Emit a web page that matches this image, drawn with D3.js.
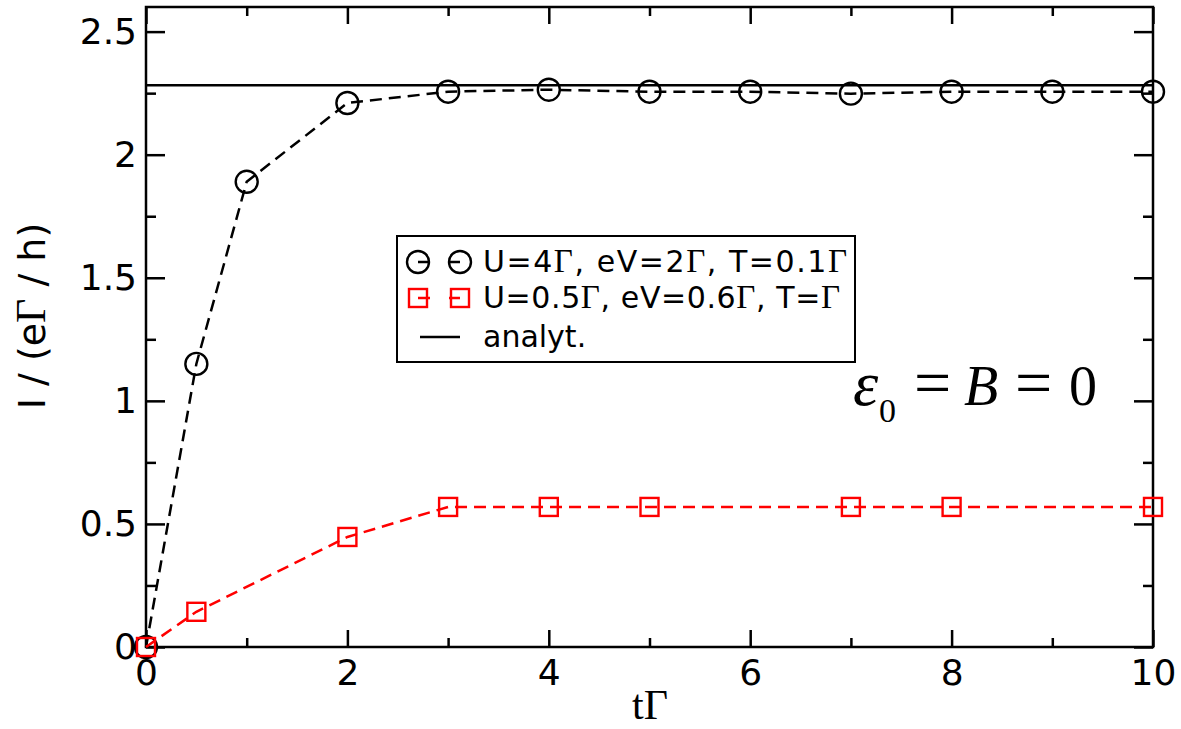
<!DOCTYPE html>
<html>
<head>
<meta charset="utf-8">
<script src="https://cdn.jsdelivr.net/npm/d3@7"></script>
<style>
  body { margin: 0; background: #fff; }
  .tick text { font-family: "DejaVu Sans", sans-serif; font-size: 36px; fill: #000; }
</style>
</head>
<body>
<div class="chart"></div>
<script>
var svgWidth = 1181;
var svgHeight = 729;
var margin = { top: 7, right: 28, bottom: 82, left: 146 };
var width = svgWidth - margin.left - margin.right;
var height = svgHeight - margin.top - margin.bottom;

// data
var tBlack = [0, 0.5, 1, 2, 3, 4, 5, 6, 7, 8, 9, 10];
var iBlack = [0, 1.15, 1.89, 2.21, 2.256, 2.264, 2.256, 2.256, 2.248, 2.256, 2.256, 2.256];
var tRed = [0, 0.5, 2, 3, 4, 5, 7, 8, 10];
var iRed = [0, 0.143, 0.447, 0.569, 0.569, 0.569, 0.569, 0.569, 0.569];
var analytic = 2.282;
var xTicks = [0, 2, 4, 6, 8, 10];
var xMinor = [1, 3, 5, 7, 9];
var yTicks = [0, 0.5, 1, 1.5, 2, 2.5];
var yMinor = [0.25, 0.75, 1.25, 1.75, 2.25];
var legendLabels = [
    ["U=4", "Γ", ", eV=2", "Γ", ", T=0.1", "Γ"],
    ["U=0.5", "Γ", ", eV=0.6", "Γ", ", T=", "Γ"],
    ["analyt."]
];

var svg = d3.select(".chart")
    .append("svg")
    .attr("width", svgWidth)
    .attr("height", svgHeight);

var chartGroup = svg.append("g")
    .attr("transform", `translate(${margin.left}, ${margin.top})`);

var x = d3.scaleLinear().domain([0, 10]).range([0, width]);
var y = d3.scaleLinear().domain([0, 2.6]).range([height, 0]);

// axes with inward ticks
function styleAxis(g) {
    g.select(".domain").remove();
    g.selectAll(".tick line").attr("stroke", "#000").attr("stroke-width", 2.5);
}
chartGroup.append("g")
    .attr("transform", `translate(0, ${height})`)
    .call(d3.axisBottom(x).tickValues(xTicks).tickSize(-17).tickPadding(12).tickFormat(d => d))
    .call(styleAxis);
chartGroup.append("g")
    .attr("transform", `translate(0, ${height})`)
    .call(d3.axisBottom(x).tickValues(xMinor).tickSize(-9).tickFormat(""))
    .call(styleAxis);
chartGroup.append("g")
    .call(d3.axisTop(x).tickValues(xTicks).tickSize(-17).tickFormat(""))
    .call(styleAxis);
chartGroup.append("g")
    .call(d3.axisTop(x).tickValues(xMinor).tickSize(-9).tickFormat(""))
    .call(styleAxis);
chartGroup.append("g")
    .call(d3.axisLeft(y).tickValues(yTicks).tickSize(-19).tickPadding(9).tickFormat(d => d))
    .call(styleAxis);
chartGroup.append("g")
    .call(d3.axisLeft(y).tickValues(yMinor).tickSize(-10).tickFormat(""))
    .call(styleAxis);
chartGroup.append("g")
    .attr("transform", `translate(${width}, 0)`)
    .call(d3.axisRight(y).tickValues(yTicks).tickSize(-19).tickFormat(""))
    .call(styleAxis);
chartGroup.append("g")
    .attr("transform", `translate(${width}, 0)`)
    .call(d3.axisRight(y).tickValues(yMinor).tickSize(-10).tickFormat(""))
    .call(styleAxis);

// frame
chartGroup.append("rect")
    .attr("width", width)
    .attr("height", height)
    .attr("fill", "none")
    .attr("stroke", "#000")
    .attr("stroke-width", 2.5);

// analytic line
chartGroup.append("line")
    .attr("x1", x(0)).attr("x2", x(10))
    .attr("y1", y(analytic)).attr("y2", y(analytic))
    .attr("stroke", "#000")
    .attr("stroke-width", 2.5);

var line = d3.line().x(d => x(d[0])).y(d => y(d[1]));
var blackData = d3.zip(tBlack, iBlack);
var redData = d3.zip(tRed, iRed);

chartGroup.append("path")
    .datum(blackData)
    .attr("d", line)
    .attr("fill", "none")
    .attr("stroke", "#000")
    .attr("stroke-width", 2.5)
    .attr("stroke-dasharray", "12,7");

chartGroup.selectAll(".circ")
    .data(blackData)
    .enter()
    .append("circle")
    .attr("class", "circ")
    .attr("cx", d => x(d[0]))
    .attr("cy", d => y(d[1]))
    .attr("r", 11)
    .attr("fill", "none")
    .attr("stroke", "#000")
    .attr("stroke-width", 2.4);

chartGroup.append("path")
    .datum(redData)
    .attr("d", line)
    .attr("fill", "none")
    .attr("stroke", "#ff0000")
    .attr("stroke-width", 2.5)
    .attr("stroke-dasharray", "12,7");

chartGroup.selectAll(".sq")
    .data(redData)
    .enter()
    .append("rect")
    .attr("class", "sq")
    .attr("x", d => x(d[0]) - 9)
    .attr("y", d => y(d[1]) - 9)
    .attr("width", 18)
    .attr("height", 18)
    .attr("fill", "none")
    .attr("stroke", "#ff0000")
    .attr("stroke-width", 2.4);

// legend
var legend = svg.append("g");
legend.append("rect")
    .attr("x", 397).attr("y", 236)
    .attr("width", 458).attr("height", 126)
    .attr("fill", "#fff")
    .attr("stroke", "#000")
    .attr("stroke-width", 2);

var rowY = [262, 298, 337];
var rowColor = ["#000", "#ff0000", "#000"];
var rowLen = [364, 357, null];
rowY.forEach(function(ry, i) {
    var seg = legend.append("line")
        .attr("x1", i < 2 ? 418 : 420).attr("x2", 460)
        .attr("y1", ry).attr("y2", ry)
        .attr("stroke", rowColor[i])
        .attr("stroke-width", 2.5);
    if (i < 2) seg.attr("stroke-dasharray", "12,19,11");
    [418, 460].forEach(function(cx) {
        if (i === 0) {
            legend.append("circle").attr("cx", cx).attr("cy", ry).attr("r", 11)
                .attr("fill", "none")
                .attr("stroke", "#000").attr("stroke-width", 2.4);
        } else if (i === 1) {
            legend.append("rect").attr("x", cx - 9).attr("y", ry - 9)
                .attr("width", 18).attr("height", 18)
                .attr("fill", "none").attr("stroke", "#ff0000").attr("stroke-width", 2.4);
        }
    });
    var t = legend.append("text")
        .attr("x", 483)
        .attr("y", ry + 10)
        .attr("font-family", "DejaVu Sans, sans-serif")
        .attr("font-size", 30);
    if (rowLen[i]) t.attr("textLength", rowLen[i]).attr("lengthAdjust", "spacing");
    legendLabels[i].forEach(function(s) {
        t.append("tspan")
            .attr("font-family", s === "Γ" ? "Liberation Serif, serif" : null)
            .attr("font-size", s === "Γ" ? 33 : null)
            .text(s);
    });
});

// annotation  ε0 = B = 0
var annFont = "Liberation Serif, serif";
svg.append("text").attr("x", 853).attr("y", 405)
    .attr("font-family", annFont).attr("font-size", 64).attr("font-style", "italic")
    .text("ε");
svg.append("text").attr("x", 879).attr("y", 422)
    .attr("font-family", annFont).attr("font-size", 34)
    .text("0");
svg.append("text").attr("x", 914).attr("y", 405)
    .attr("font-family", annFont).attr("font-size", 66)
    .text("=");
svg.append("text").attr("x", 964).attr("y", 405)
    .attr("font-family", annFont).attr("font-size", 56).attr("font-style", "italic")
    .text("B");
svg.append("text").attr("x", 1015).attr("y", 405)
    .attr("font-family", annFont).attr("font-size", 66)
    .text("=");
svg.append("text").attr("x", 1069).attr("y", 405)
    .attr("font-family", annFont).attr("font-size", 56)
    .text("0");

// axis labels
svg.append("text")
    .attr("x", 650)
    .attr("y", 719)
    .attr("text-anchor", "middle")
    .attr("font-family", "Liberation Serif, serif")
    .attr("font-size", 42)
    .text("tΓ");

var yl = svg.append("text")
    .attr("transform", "translate(45, 316) rotate(-90)")
    .attr("text-anchor", "middle")
    .attr("font-family", "DejaVu Sans, sans-serif")
    .attr("font-size", 38);
yl.append("tspan").text("I / (e");
yl.append("tspan").attr("font-family", "Liberation Serif, serif").attr("font-size", 42).text("Γ");
yl.append("tspan").text(" / h)");
</script>
</body>
</html>
